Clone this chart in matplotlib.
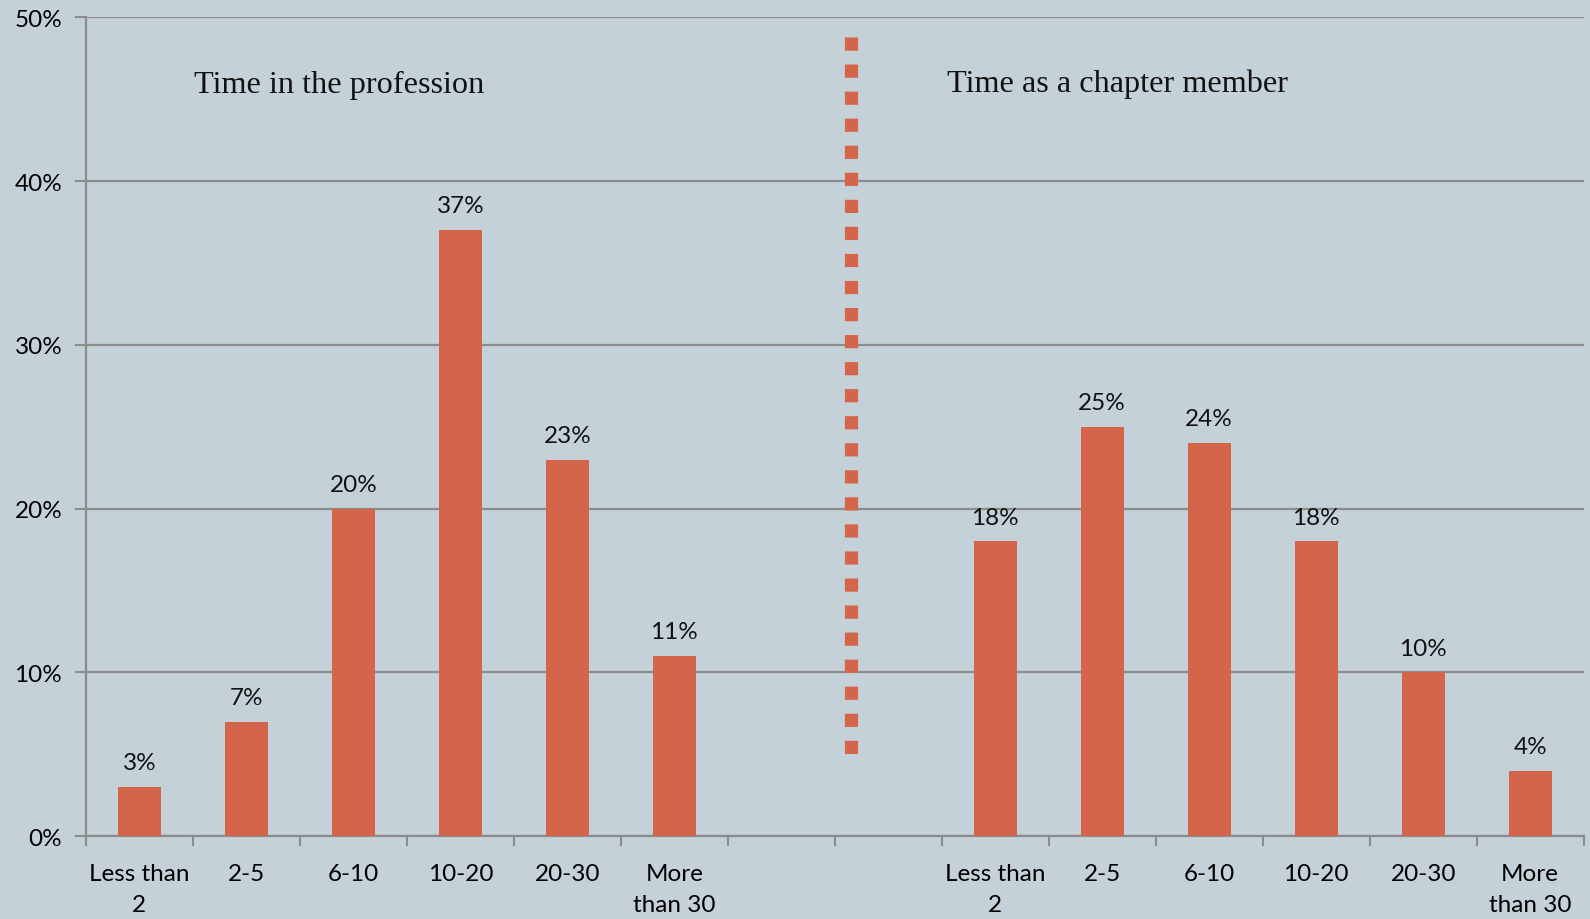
import matplotlib.pyplot as plt
import numpy as np

categories = ['Less than\n2', '2-5', '6-10', '10-20', '20-30', 'More\nthan 30']
profession = [3, 7, 20, 37, 23, 11]
chapter = [18, 25, 24, 18, 10, 4]

bg = '#c5d1d8'
bar_color = '#d4644a'
grid_color = '#8c8c8c'
label_font = ['Lato', 'DejaVu Sans']
title_font = ['Liberation Serif', 'DejaVu Serif']

# 14 slots: 6 profession, 2 empty, 6 chapter
x_prof = np.arange(6)
x_chap = np.arange(8, 14)

fig = plt.figure(figsize=(15.9, 9.2), dpi=100, facecolor=bg)
ax = fig.add_axes([0.054, 0.090, 0.942, 0.890])
ax.set_facecolor(bg)

ax.bar(x_prof, profession, width=0.4, color=bar_color, zorder=3)
ax.bar(x_chap, chapter, width=0.4, color=bar_color, zorder=3)

for xs, vals in [(x_prof, profession), (x_chap, chapter)]:
    for x, v in zip(xs, vals):
        ax.annotate(f'{v}%', (x, v), xytext=(0, 10), textcoords='offset points',
                    ha='center', va='bottom', fontsize=17.5, family=label_font, color='#111111')

# dotted divider, drawn top to bottom
ax.plot([6.65, 6.65], [48.8, 4.8], color=bar_color, linewidth=9.5,
        linestyle=(0, (1.0, 1.05)), dash_capstyle='butt', zorder=4)

ax.text(0.51, 45.9, 'Time in the profession', fontsize=23.2, family=title_font,
        va='center', ha='left', color='#111111')
ax.text(7.55, 46.0, 'Time as a chapter member', fontsize=23.2, family=title_font,
        va='center', ha='left', color='#111111')

ax.set_xlim(-0.5, 13.5)
ax.set_ylim(0, 50)
ax.set_yticks(range(0, 51, 10))
ax.set_yticklabels([f'{t}%' for t in range(0, 51, 10)], family=label_font, fontsize=17.5)
ax.yaxis.grid(True, color=grid_color, linewidth=1.6, zorder=0)

ax.set_xticks(list(x_prof) + list(x_chap))
ax.set_xticklabels(categories * 2, family=label_font, fontsize=17.5, linespacing=1.6)
ax.set_xticks(np.arange(-0.5, 14, 1), minor=True)
ax.tick_params(axis='x', which='major', length=0, pad=19)
ax.tick_params(axis='x', which='minor', length=7, width=1.5, color=grid_color, direction='out')
ax.tick_params(axis='y', length=8, width=1.5, color=grid_color, pad=9)

for s in ['top', 'right']:
    ax.spines[s].set_visible(False)
for s in ['left', 'bottom']:
    ax.spines[s].set_color(grid_color)
    ax.spines[s].set_linewidth(1.6)

fig.savefig('out.png', dpi=100, facecolor=bg)
